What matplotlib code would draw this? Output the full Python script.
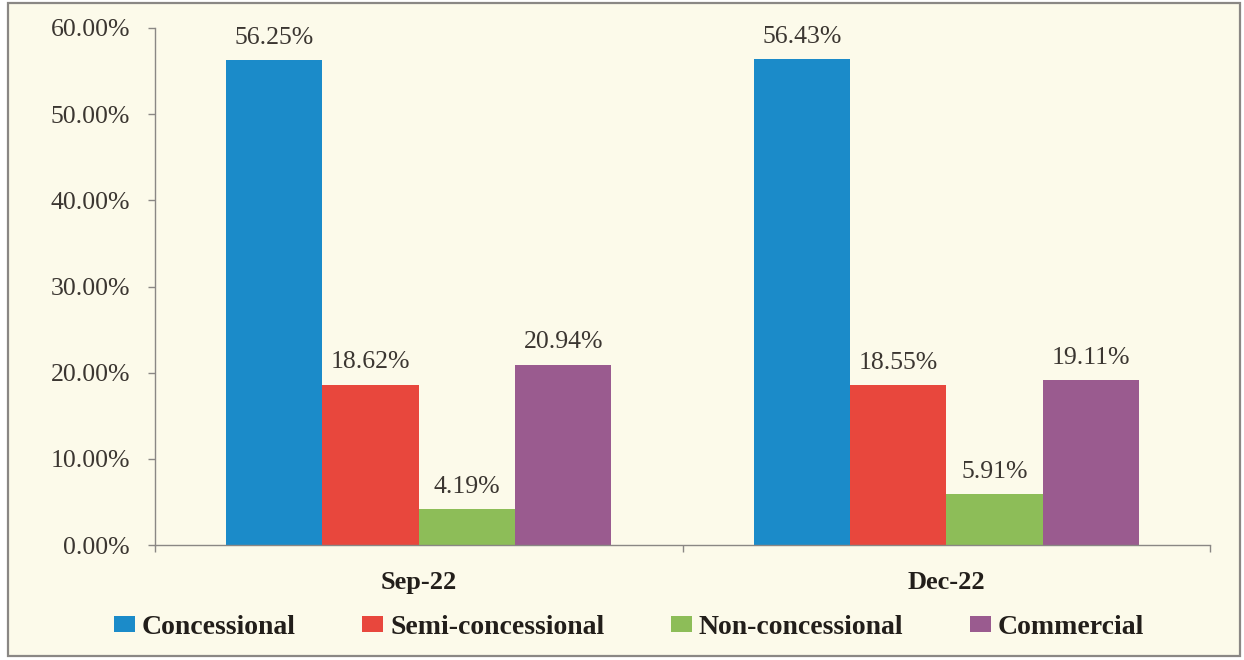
import numpy as np
import matplotlib.pyplot as plt
from matplotlib.patches import Rectangle

# ── Data ──────────────────────────────────────────────────────────────────────
periods = ['Sep-22', 'Dec-22']
series = ['Concessional', 'Semi-concessional', 'Non-concessional', 'Commercial']
concessional = [56.25, 56.43]
semi_concessional = [18.62, 18.55]
non_concessional = [4.19, 5.91]
commercial = [20.94, 19.11]
yticks = [0, 10, 20, 30, 40, 50, 60]

values = [concessional, semi_concessional, non_concessional, commercial]
colors = ['#1b8bc9', '#e8473d', '#8dbd58', '#9a5b8f']

bg = '#fcfaea'
txt = '#3b3631'
dark = '#221e1a'

plt.rcParams['font.family'] = ['Liberation Serif', 'DejaVu Serif']

fig = plt.figure(figsize=(12.44, 6.60), dpi=100, facecolor='white')
# outer frame of the chart area (kept behind the axes)
fig.patches.append(Rectangle((8 / 1244, 1 - 656 / 660), 1232 / 1244, 653 / 660,
                             transform=fig.transFigure, facecolor=bg,
                             edgecolor='#8a8784', linewidth=1.6, zorder=-10))

ax = fig.add_axes([155 / 1244, 1 - 545 / 660, (1210 - 155) / 1244, (545 - 28) / 660])
ax.patch.set_alpha(0)

x = np.arange(len(periods))
width = 0.1825
offsets = (np.arange(len(series)) - 1.5) * width

for vals, name, col, off in zip(values, series, colors, offsets):
    bars = ax.bar(x + off, vals, width, color=col, label=name, linewidth=0)
    for b, v in zip(bars, vals):
        ax.annotate(f'{v:.2f}%', (b.get_x() + b.get_width() / 2, v),
                    xytext=(0, 8), textcoords='offset points',
                    ha='center', va='bottom', fontsize=18.5, color=txt)

ax.set_xlim(-0.5, 1.5)
ax.set_ylim(0, 60)
ax.set_yticks(yticks)
ax.set_yticklabels([f'{t:.2f}%' for t in yticks])
ax.tick_params(axis='y', length=5, width=1, color='#8a8784', pad=13,
               labelsize=18.5, labelcolor=txt)

ax.set_xticks(x)
ax.set_xticklabels(periods, fontsize=19, fontweight='bold', color=dark)
ax.tick_params(axis='x', which='major', length=0, pad=19)
ax.set_xticks([-0.5, 0.5, 1.5], minor=True)
ax.tick_params(axis='x', which='minor', length=5, width=1, color='#8a8784')

for s in ['top', 'right']:
    ax.spines[s].set_visible(False)
for s in ['left', 'bottom']:
    ax.spines[s].set_color('#8a8784')
    ax.spines[s].set_linewidth(1)

fig.legend(loc='center', bbox_to_anchor=(629 / 1244, 1 - 627 / 660), ncol=4,
           frameon=False, handlelength=0.75, handleheight=0.5,
           handletextpad=0.25, columnspacing=2.4,
           prop={'size': 20, 'weight': 'bold'}, labelcolor=dark)

fig.savefig('out.png', dpi=100, facecolor=fig.get_facecolor())
